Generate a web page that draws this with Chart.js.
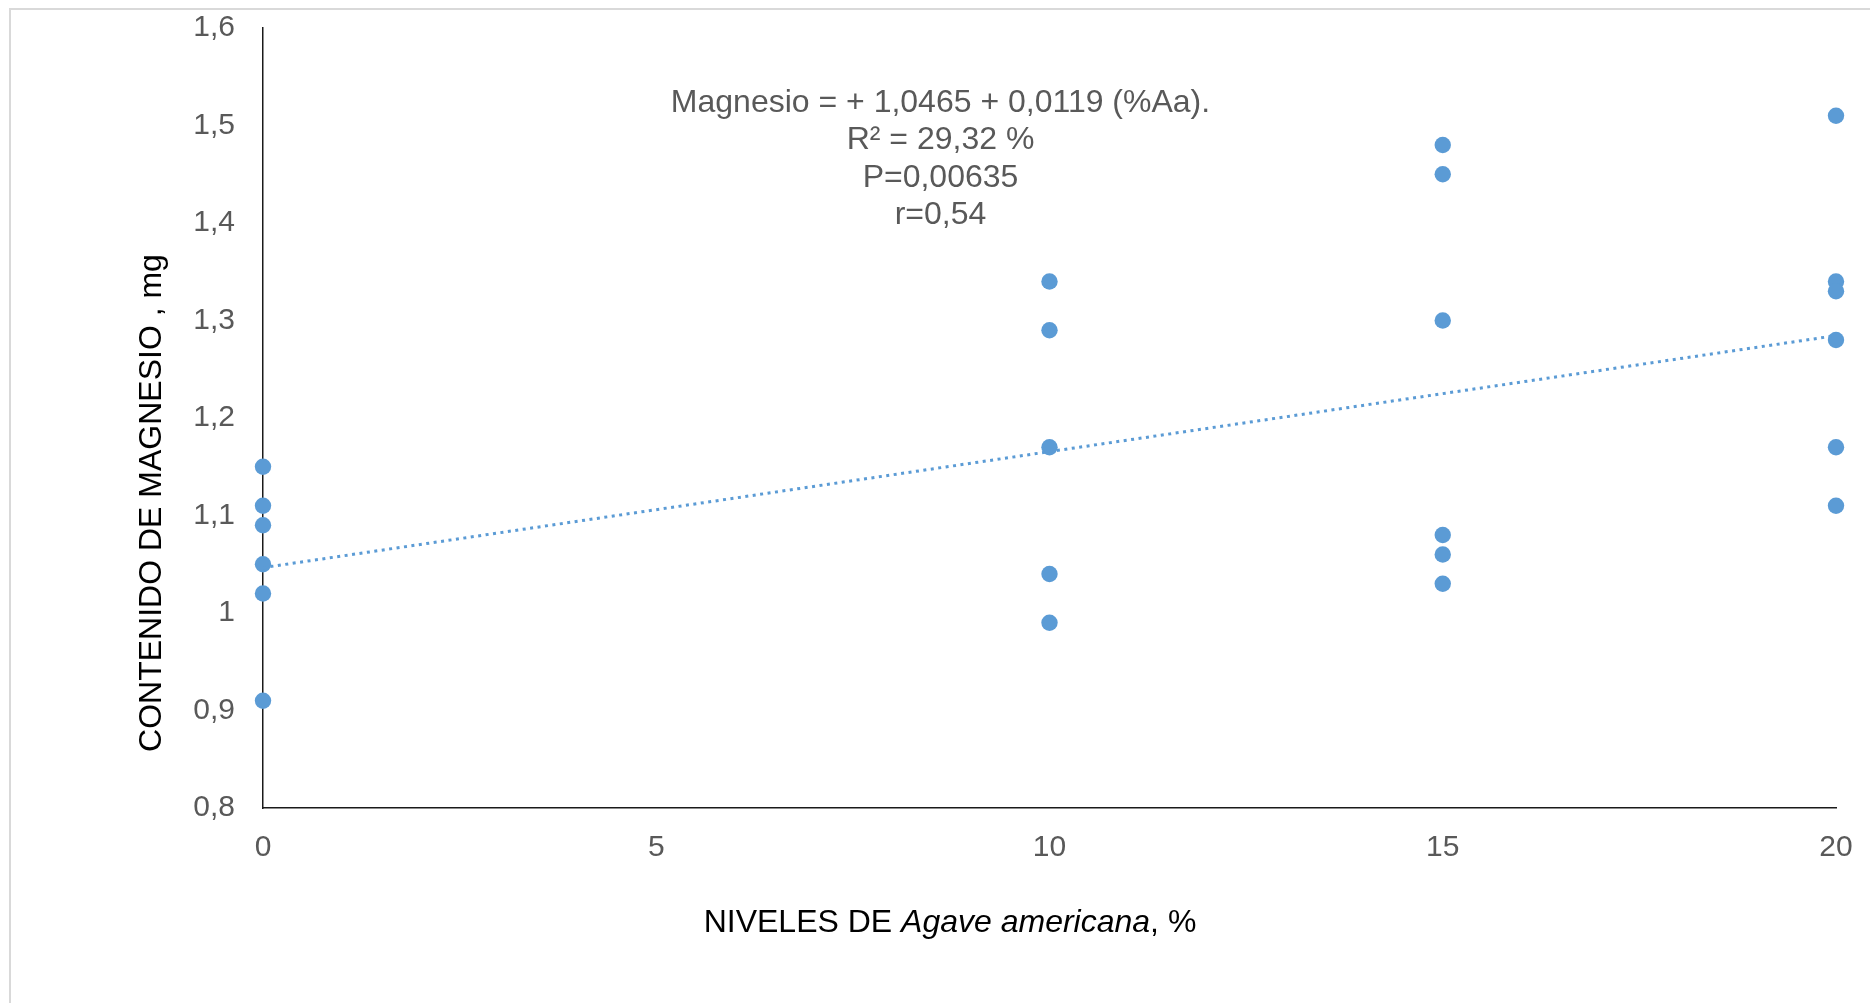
<!DOCTYPE html>
<html lang="es">
<head>
<meta charset="utf-8">
<title>Contenido de magnesio según niveles de Agave americana</title>
<script src="https://cdn.jsdelivr.net/npm/chart.js@4/dist/chart.umd.min.js"></script>
<style>
  html, body { margin: 0; padding: 0; background: #ffffff; }
  #wrap { position: relative; width: 1870px; height: 1003px; }
</style>
</head>
<body>
<div id="wrap"><canvas id="chart" width="1870" height="1003"></canvas></div>
<script>
// Niveles de Agave americana (%) y contenido de magnesio (mg) observado
const nivel0  = [1.15, 1.11, 1.09, 1.05, 1.02, 0.91];
const nivel10 = [1.34, 1.29, 1.17, 1.04, 0.99];
const nivel15 = [1.48, 1.45, 1.30, 1.08, 1.06, 1.03];
const nivel20 = [1.51, 1.34, 1.33, 1.28, 1.17, 1.11];
const niveles = [0, 10, 15, 20];

// Recta de regresión: Magnesio = b0 + b1 (%Aa)
const intercepto = 1.0465;
const pendiente = 0.0119;
const rangoX = [0, 20];

// Ejes
const yTicks = [0.8, 0.9, 1.0, 1.1, 1.2, 1.3, 1.4, 1.5, 1.6];
const xTicks = [0, 5, 10, 15, 20];

const ecuacion = [
  'Magnesio = + 1,0465 + 0,0119 (%Aa).',
  'R² = 29,32 %',
  'P=0,00635',
  'r=0,54'
];

const puntos = [];
[nivel0, nivel10, nivel15, nivel20].forEach((serie, i) => {
  serie.forEach(v => puntos.push({ x: niveles[i], y: v }));
});
const tendencia = rangoX.map(x => ({ x: x, y: intercepto + pendiente * x }));

const AZUL = '#5B9BD5';
const FONT = "'Liberation Sans', Arial, sans-serif";

const coma = v => String(Number(v.toFixed(1))).replace('.', ',');

// Marco, títulos de ejes y ecuación
const decoraciones = {
  id: 'decoraciones',
  beforeDraw(chart) {
    const ctx = chart.ctx;
    ctx.save();
    ctx.fillStyle = '#ffffff';
    ctx.fillRect(0, 0, chart.width, chart.height);
    ctx.strokeStyle = '#d9d9d9';
    ctx.lineWidth = 2;
    ctx.beginPath();
    ctx.moveTo(10, chart.height + 5);
    ctx.lineTo(10, 9);
    ctx.lineTo(chart.width + 5, 9);
    ctx.stroke();
    ctx.restore();
  },
  afterDraw(chart) {
    const ctx = chart.ctx;
    const area = chart.chartArea;
    ctx.save();

    // Ecuación de regresión
    ctx.fillStyle = '#595959';
    ctx.font = '32px ' + FONT;
    ctx.textAlign = 'center';
    ctx.textBaseline = 'middle';
    const cx = chart.scales.x.getPixelForValue(10) - 109;
    ecuacion.forEach((t, i) => ctx.fillText(t, cx, area.top + 75 + i * 37.4));

    // Título del eje X con el nombre científico en cursiva
    const partes = [
      { t: 'NIVELES DE ', f: '32px ' + FONT },
      { t: 'Agave americana', f: 'italic 32px ' + FONT },
      { t: ', %', f: '32px ' + FONT }
    ];
    let total = 0;
    partes.forEach(p => { ctx.font = p.f; p.w = ctx.measureText(p.t).width; total += p.w; });
    let x = 950 - total / 2;
    ctx.fillStyle = '#000000';
    ctx.textAlign = 'left';
    partes.forEach(p => { ctx.font = p.f; ctx.fillText(p.t, x, 923); x += p.w; });

    // Título del eje Y
    ctx.translate(152, 503);
    ctx.rotate(-Math.PI / 2);
    ctx.font = '32px ' + FONT;
    ctx.textAlign = 'center';
    ctx.fillText('CONTENIDO DE MAGNESIO , mg', 0, 0);
    ctx.restore();
  }
};

new Chart(document.getElementById('chart'), {
  type: 'scatter',
  data: {
    datasets: [
      {
        label: 'Magnesio',
        data: puntos,
        backgroundColor: AZUL,
        borderColor: AZUL,
        pointRadius: 8.2,
        pointHoverRadius: 8.2,
        borderWidth: 0,
        clip: false,
        order: 2
      },
      {
        type: 'line',
        label: 'Lineal (Magnesio)',
        data: tendencia,
        borderColor: AZUL,
        borderWidth: 3,
        borderDash: [3, 4.5],
        pointRadius: 0,
        fill: false,
        tension: 0,
        order: 1
      }
    ]
  },
  options: {
    responsive: false,
    animation: false,
    events: [],
    layout: { padding: { left: 0, right: 34, top: 28, bottom: 95 } },
    plugins: {
      legend: { display: false },
      tooltip: { enabled: false },
      title: { display: false }
    },
    scales: {
      x: {
        type: 'linear',
        min: rangoX[0],
        max: rangoX[1],
        afterBuildTicks(scale) { scale.ticks = xTicks.map(v => ({ value: v })); },
        afterFit(scale) {
          scale.height = 100;
          scale.paddingLeft = 0;
          scale.paddingRight = 0;
        },
        grid: { display: false, drawTicks: false },
        border: { display: true, color: '#1a1a1a', width: 1.5 },
        ticks: {
          padding: 22,
          color: '#595959',
          font: { family: FONT, size: 30 },
          callback: v => String(v)
        }
      },
      y: {
        type: 'linear',
        min: yTicks[0],
        max: yTicks[yTicks.length - 1],
        afterBuildTicks(scale) { scale.ticks = yTicks.map(v => ({ value: v })); },
        afterFit(scale) {
          scale.width = 263;
          scale.paddingTop = 0;
          scale.paddingBottom = 0;
        },
        grid: { display: false, drawTicks: false },
        border: { display: true, color: '#1a1a1a', width: 1.5 },
        ticks: {
          padding: 28,
          color: '#595959',
          font: { family: FONT, size: 30 },
          callback: v => coma(v)
        }
      }
    }
  },
  plugins: [decoraciones]
});
</script>
</body>
</html>
